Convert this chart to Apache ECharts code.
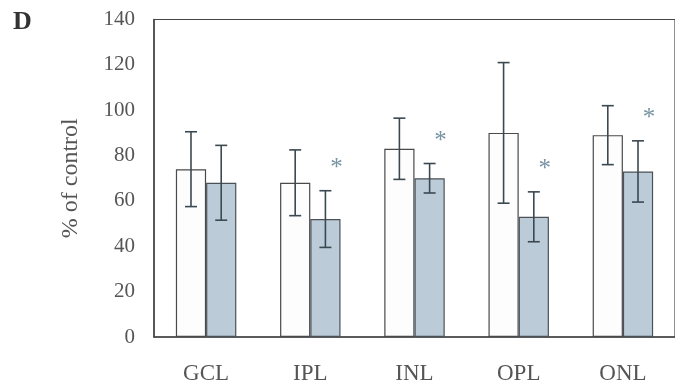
<!DOCTYPE html>
<html>
<head>
<meta charset="utf-8">
<script src="https://cdn.jsdelivr.net/npm/echarts@6/dist/echarts.min.js"></script>
<style>
  html, body { margin: 0; padding: 0; background: #fff; }
  #chart { width: 675px; height: 385px; }
</style>
</head>
<body>
<div id="chart"></div>
<script>
// Retinal layers
const categories = ['GCL', 'IPL', 'INL', 'OPL', 'ONL'];
// Control group (open bars): mean and error
const controlMean = [74, 68, 83, 90, 89];
const controlErr = [16.5, 14.5, 13.5, 31, 13];
// Treated group (shaded bars): mean and error
const treatedMean = [68, 52, 70, 53, 73];
const treatedErr = [16.5, 12.5, 6.5, 11, 13.5];
// Significance markers on the treated bars
const significant = [false, true, true, true, true];
const yTicks = [0, 20, 40, 60, 80, 100, 120, 140];

const BAR_FRAC = 0.29;
const FONT = '"Liberation Serif", "DejaVu Serif", serif';
const TEXT = '#555';
const ERR_COLOR = '#3c4850';

function errorSeries(means, errs, side, withStars) {
  return {
    type: 'custom',
    z: 5,
    data: means.map((m, i) => [i, m - errs[i], m + errs[i], withStars && significant[i] ? 1 : 0]),
    encode: { x: 0, y: [1, 2] },
    renderItem: function (params, api) {
      const i = api.value(0);
      const band = api.size([1, 0])[0];
      const off = side * band * BAR_FRAC / 2;
      const lo = api.coord([i, api.value(1)]);
      const hi = api.coord([i, api.value(2)]);
      const x = lo[0] + off;
      const cap = 6;
      const style = { stroke: ERR_COLOR, lineWidth: 1.6 };
      const children = [
        { type: 'line', shape: { x1: x, y1: hi[1], x2: x, y2: lo[1] }, style: style },
        { type: 'line', shape: { x1: x - cap, y1: hi[1], x2: x + cap, y2: hi[1] }, style: style },
        { type: 'line', shape: { x1: x - cap, y1: lo[1], x2: x + cap, y2: lo[1] }, style: style }
      ];
      if (api.value(3)) {
        children.push({
          type: 'text',
          style: {
            x: x + 11, y: hi[1] - 22,
            text: '*',
            fill: '#7893a3',
            font: '25px ' + FONT,
            textAlign: 'center',
            textVerticalAlign: 'middle'
          }
        });
      }
      return { type: 'group', children: children };
    }
  };
}

const chart = echarts.init(document.getElementById('chart'), null, { renderer: 'canvas' });
chart.setOption({
  animation: false,
  backgroundColor: '#fff',
  grid: {
    left: 154, top: 19.5, height: 318, width: 527.5,
    show: true, borderColor: '#444', borderWidth: 1.2, backgroundColor: 'transparent'
  },
  graphic: [{
    type: 'text', left: 13, top: 9,
    style: { text: 'D', font: 'bold 26px ' + FONT, fill: '#333' }
  }],
  xAxis: {
    type: 'category',
    data: categories,
    axisLine: { lineStyle: { color: '#444', width: 1.5 } },
    axisTick: { show: false },
    axisLabel: { margin: 25, color: TEXT, fontFamily: FONT, fontSize: 23 }
  },
  yAxis: {
    type: 'value',
    min: 0, max: 140, interval: 20,
    name: '% of control',
    nameLocation: 'middle',
    nameGap: 71,
    nameRotate: 90,
    nameTextStyle: { color: TEXT, fontFamily: FONT, fontSize: 24 },
    axisLine: { show: true, lineStyle: { color: '#444', width: 1.5 } },
    axisTick: { show: false },
    splitLine: { show: false },
    axisLabel: {
      margin: 19, color: TEXT, fontFamily: FONT, fontSize: 21,
      formatter: v => (yTicks.includes(v) ? String(v) : '')
    }
  },
  series: [
    {
      type: 'bar', data: controlMean,
      barWidth: (BAR_FRAC * 100) + '%', barGap: '0%',
      itemStyle: { color: '#fdfdfd', borderColor: '#4a4a4a', borderWidth: 1.2 }
    },
    {
      type: 'bar', data: treatedMean,
      barWidth: (BAR_FRAC * 100) + '%', barGap: '0%',
      itemStyle: { color: '#bccbd8', borderColor: '#4a5258', borderWidth: 1.2 }
    },
    errorSeries(controlMean, controlErr, -1, false),
    errorSeries(treatedMean, treatedErr, 1, true)
  ]
});
</script>
</body>
</html>
